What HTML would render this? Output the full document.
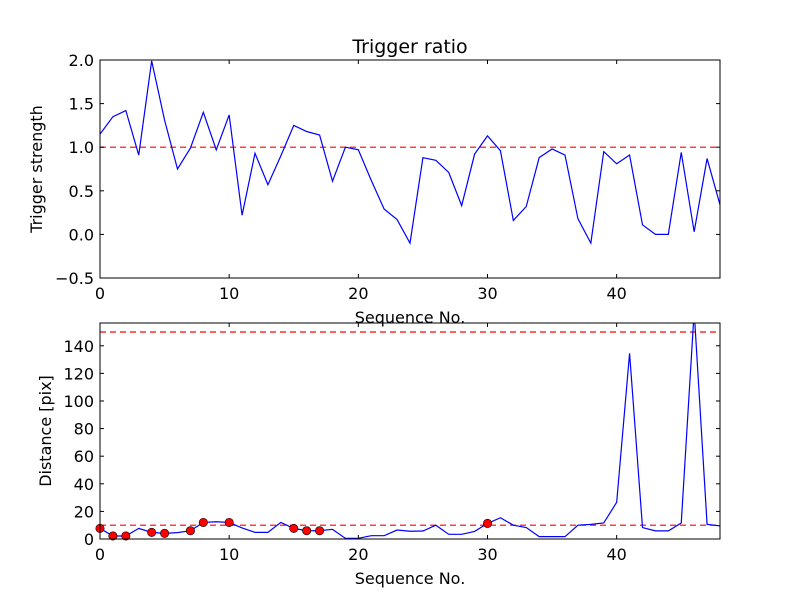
<!DOCTYPE html>
<html><head><meta charset="utf-8"><style>
body{margin:0;background:#fff;}
svg{display:block;font-family:"DejaVu Sans","Liberation Sans",sans-serif;}
</style></head><body>
<svg id="c" width="800" height="600"></svg>
<script>
const seq = Array.from({length:49},(_,i)=>i);
const ratio=[1.15,1.35,1.42,0.91,1.99,1.31,0.75,0.99,1.40,0.97,1.37,0.22,0.93,0.57,0.9,1.25,1.18,1.14,0.61,1.0,0.97,0.62,0.29,0.17,-0.1,0.88,0.85,0.71,0.33,0.92,1.13,0.96,0.16,0.32,0.88,0.98,0.91,0.18,-0.1,0.95,0.81,0.91,0.11,0.0,0.0,0.94,0.03,0.87,0.34];
const dist=[7.7,2.2,2.2,7.7,4.8,4.1,4.6,6,12,12.5,12,8,4.8,4.8,12,7.7,6,6,7,0.5,0.5,2.4,2.4,6.5,5.6,5.8,10,3.4,3.4,5.5,11.3,15.4,10,8.3,1.7,1.7,1.7,10,10.6,11.6,26.6,134.5,8.3,5.9,5.9,11.6,165,10.6,9.5];
const markedIdx=[0,1,2,4,5,7,8,10,15,16,17,30];
const xTicks=[0,10,20,30,40];
const ratioTicks=[-0.5,0.0,0.5,1.0,1.5,2.0];
const distTicks=[0,20,40,60,80,100,120,140];
const NS="http://www.w3.org/2000/svg";
const svg=document.getElementById('c');
function el(t,a,p){const e=document.createElementNS(NS,t);for(const k in a)e.setAttribute(k,a[k]);(p||svg).appendChild(e);return e;}
function panel(y0,y1,ymin,ymax,yt,fmt,data,refs,ylabel,title,name,marks,ylx){
  const x0=100,x1=720;
  const sx=v=>x0+(v-0)/(48-0)*(x1-x0);
  const sy=v=>y1-(v-ymin)/(ymax-ymin)*(y1-y0);
  const g=el('g',{});
  
  
  const cid='clip'+name;
  const cp=el('clipPath',{id:cid},g);el('rect',{x:x0,y:y0,width:x1-x0,height:y1-y0},cp);
  const pg=el('g',{'clip-path':`url(#${cid})`},g);
  refs.forEach(r=>{const l=el('line',{x1:x0,x2:x1,y1:sy(r),y2:sy(r),stroke:'#f00','stroke-width':1.2,'stroke-dasharray':'6,4'},pg);
    
    });
  const pl=el('polyline',{points:data.map((v,i)=>sx(seq[i])+','+sy(v)).join(' '),fill:'none',stroke:'#00f','stroke-width':1.2},pg);
  
  
  if(marks)marks.forEach(i=>{const c=el('circle',{cx:sx(seq[i]),cy:sy(data[i]),r:4.2,fill:'#f00',stroke:'#000','stroke-width':0.6},g);
    
    });
  el('rect',{x:x0,y:y0,width:x1-x0,height:y1-y0,fill:'none',stroke:'#000','stroke-width':1},g);
  xTicks.forEach(t=>{const x=sx(t);el('line',{x1:x,x2:x,y1:y1,y2:y1-4,stroke:'#000'},g);el('line',{x1:x,x2:x,y1:y0,y2:y0+4,stroke:'#000'},g);
    const tx=el('text',{x:x,y:y1+21,'text-anchor':'middle','font-size':16},g);tx.textContent=t;
    
    });
  yt.forEach(t=>{const y=sy(t);el('line',{x1:x0,x2:x0+4,y1:y,y2:y,stroke:'#000'},g);el('line',{x1:x1,x2:x1-4,y1:y,y2:y,stroke:'#000'},g);
    const tx=el('text',{x:x0-6,y:y+6,'text-anchor':'end','font-size':16},g);tx.textContent=fmt(t);
    
    });
  const xl=el('text',{x:410,y:y1+45,'text-anchor':'middle','font-size':16},g);xl.textContent='Sequence No.';
  
  
  const yl=el('text',{x:0,y:0,'text-anchor':'middle','font-size':16,transform:`translate(${ylx},${(y0+y1)/2}) rotate(-90)`},g);yl.textContent=ylabel;
  
  
  if(title){const tt=el('text',{x:410,y:53,'text-anchor':'middle','font-size':19},g);tt.textContent=title;
    
    }
}
panel(60,278,-0.5,2.0,ratioTicks,v=>v.toFixed(1).replace('-','\u2212'),ratio,[1.0],'Trigger strength','Trigger ratio','top-panel',null,42);
panel(323,539,0,156.5,distTicks,v=>String(v),dist,[10,150],'Distance [pix]',null,'bottom-panel',markedIdx,51);
</script>
</body></html>
